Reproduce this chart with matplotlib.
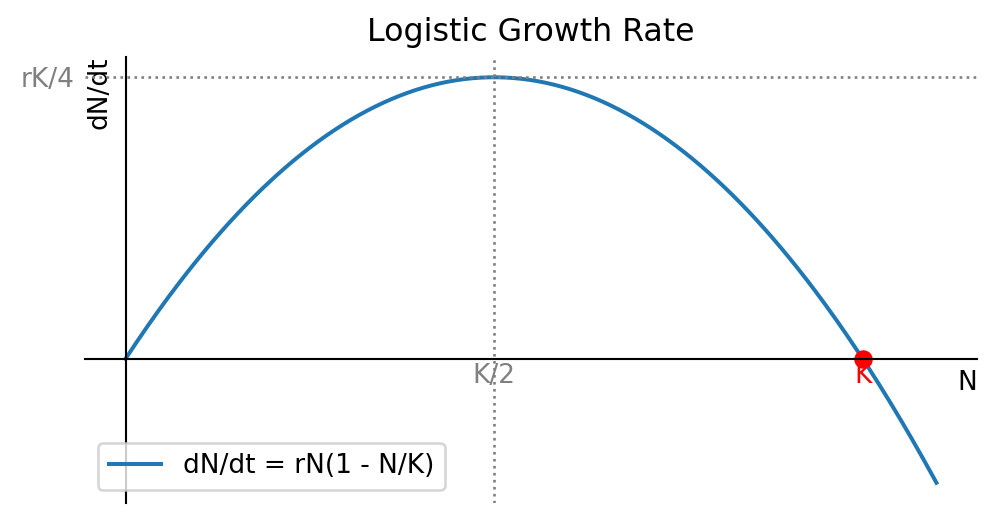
import numpy as np
import matplotlib.pyplot as plt

# model parameters (labels on the chart are symbolic)
r = 1.0
K = 1.0
n_max = 1.1 * K

x_tick_pos = [K / 2, K]
x_tick_labels = ['K/2', 'K']
x_tick_colors = ['gray', 'red']
y_tick_pos = [r * K / 4]
y_tick_labels = ['rK/4']

N = np.linspace(0, n_max, 300)
dNdt = r * N * (1 - N / K)

DPI = 190
fig = plt.figure(figsize=(996 / DPI, 521 / DPI), dpi=DPI)
ax = fig.add_axes([0.0853, 0.0345, 0.8956, 0.8561])

ax.plot(N, dNdt, lw=1.5, label='dN/dt = rN(1 - N/K)')
ax.plot(K, 0, 'ro')
ax.axhline(r * K / 4, color='gray', ls=':', lw=1)
ax.axvline(K / 2, color='gray', ls=':', lw=1)

ax.spines['left'].set_position('zero')
ax.spines['bottom'].set_position('zero')
ax.spines['top'].set_visible(False)
ax.spines['right'].set_visible(False)

ax.set_xticks(x_tick_pos)
ax.set_xticklabels(x_tick_labels)
for lab, c in zip(ax.get_xticklabels(), x_tick_colors):
    lab.set_color(c)
ax.set_yticks(y_tick_pos)
ax.set_yticklabels(y_tick_labels, color='gray')
ax.tick_params(axis='x', length=0, pad=1.5)
ax.tick_params(axis='y', length=0, pad=19.5)

ax.set_xlabel('N', loc='right')
ax.xaxis.set_label_coords(1.0, 0.298)
ax.set_ylabel('dN/dt', loc='top')
ax.yaxis.set_label_coords(0.031, 1.0)

ax.set_title('Logistic Growth Rate')
ax.legend(loc='lower left')

fig.savefig('out.png', dpi=DPI)
